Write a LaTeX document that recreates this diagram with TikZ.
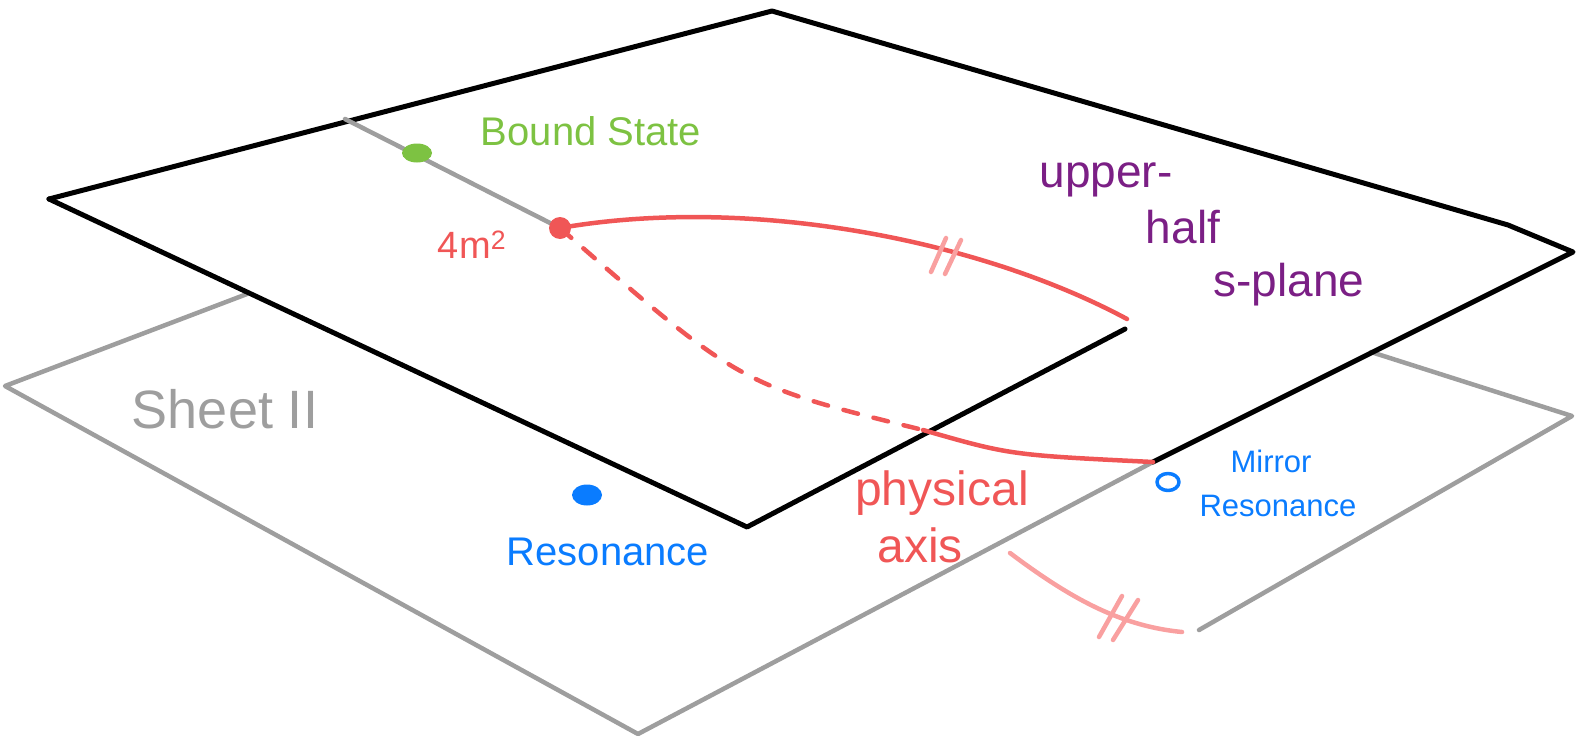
\documentclass[tikz,border=0pt]{standalone}
\usepackage{fontspec}
\setmainfont{Liberation Sans}
\usetikzlibrary{shapes.geometric}
\definecolor{sheetgray}{HTML}{9E9E9E}
\definecolor{bsgreen}{HTML}{7DC242}
\definecolor{axred}{HTML}{F05656}
\definecolor{lightred}{HTML}{F9A0A0}
\definecolor{hpurple}{HTML}{7B1F85}
\definecolor{resblue}{HTML}{0A7CFF}
\begin{document}
\begin{tikzpicture}[x=1pt,y=-1pt,line cap=round,line join=round,
  topedge/.style={draw=black,line width=5pt},
  lowedge/.style={draw=sheetgray,line width=4.5pt},
  redline/.style={draw=axred,line width=4.5pt},
  lightline/.style={draw=lightred,line width=4.5pt},
  lbl/.style={inner sep=0pt,anchor=center},
  fs/.style={font=\fontsize{#1}{#1}\selectfont}]
\useasboundingbox (0,0) rectangle (1581,736);
% corners of the top sheet
\coordinate (tl) at (49,199);
\coordinate (tt) at (772,11);
\coordinate (tk) at (1508,225);
\coordinate (tr) at (1573,252);
\coordinate (tj) at (1153,462);
\coordinate (ti) at (1125,329);
\coordinate (tb) at (747,527);
% corners of sheet II
\coordinate (la) at (247,294);
\coordinate (ll) at (5,386);
\coordinate (lb) at (638,734);
\coordinate (ra) at (1371,352);
\coordinate (rr) at (1572,416);
\coordinate (re) at (1199,630);
% branch cut points
\coordinate (ct) at (345,119);
\coordinate (thr) at (560,228);
\coordinate (ce) at (1127,319);
\coordinate (dx) at (923,430);
% sheet II (gray)
\draw[lowedge] (la) -- (ll) -- (lb) -- (tj);
\draw[lowedge] (ra) -- (rr) -- (re);
% top sheet (black)
\draw[topedge] (tl) -- (tt) -- (tk) -- (tr) -- (tj);
\draw[topedge] (ti) -- (tb) -- (tl);
% gray cut to threshold
\draw[lowedge] (ct) -- (thr);
% red curves
\draw[redline] (thr) .. controls (750,195) and (980,240) .. (ce);
\draw[redline,dash pattern=on 15pt off 16pt] (thr) .. controls (740,385) .. (dx);
\draw[redline] (dx) .. controls (1010,455) .. (tj);
\draw[lightline] (1010,553) .. controls (1070,598) and (1120,626) .. (1182,632);
% tick marks
\draw[lightline] (931,272) -- (946,238);
\draw[lightline] (945,274) -- (961,240);
\draw[lightline] (1099,637) -- (1122,596);
\draw[lightline] (1113,640) -- (1138,600);
% dots
\node[fill=bsgreen,ellipse,minimum width=30pt,minimum height=19pt,inner sep=0pt] (bsdot) at (417,153) {};
\node[fill=axred,circle,minimum size=22pt,inner sep=0pt] (thdot) at (thr) {};
\node[fill=resblue,ellipse,minimum width=30pt,minimum height=21pt,inner sep=0pt] (resdot) at (587,495) {};
\node[draw=resblue,line width=3.5pt,ellipse,minimum width=22pt,minimum height=17pt,inner sep=0pt] (mirdot) at (1168,482) {};
% labels
\node[lbl,fs=40,text=bsgreen] (bslbl) at (591,131) {Bound State};
\node[lbl,fs=38,text=axred] (thlbl) at (472,245) {4m\textsuperscript{2}};
\node[lbl,fs=46,text=hpurple] (up1) at (1106,180) {upper-};
\node[lbl,fs=46,text=hpurple] (up2) at (1183,227) {half};
\node[lbl,fs=46,text=hpurple] (up3) at (1289,285) {s-plane};
\node[lbl,fs=54,text=sheetgray] (shlbl) at (225,409) {Sheet II};
\node[lbl,fs=40,text=resblue] (reslbl) at (608,552) {Resonance};
\node[lbl,fs=48,text=axred] (ph1) at (942,493) {physical};
\node[lbl,fs=48,text=axred] (ph2) at (920,545) {axis};
\node[lbl,fs=31,text=resblue] (mr1) at (1271,461) {Mirror};
\node[lbl,fs=31,text=resblue] (mr2) at (1278,506) {Resonance};
\end{tikzpicture}
\end{document}
